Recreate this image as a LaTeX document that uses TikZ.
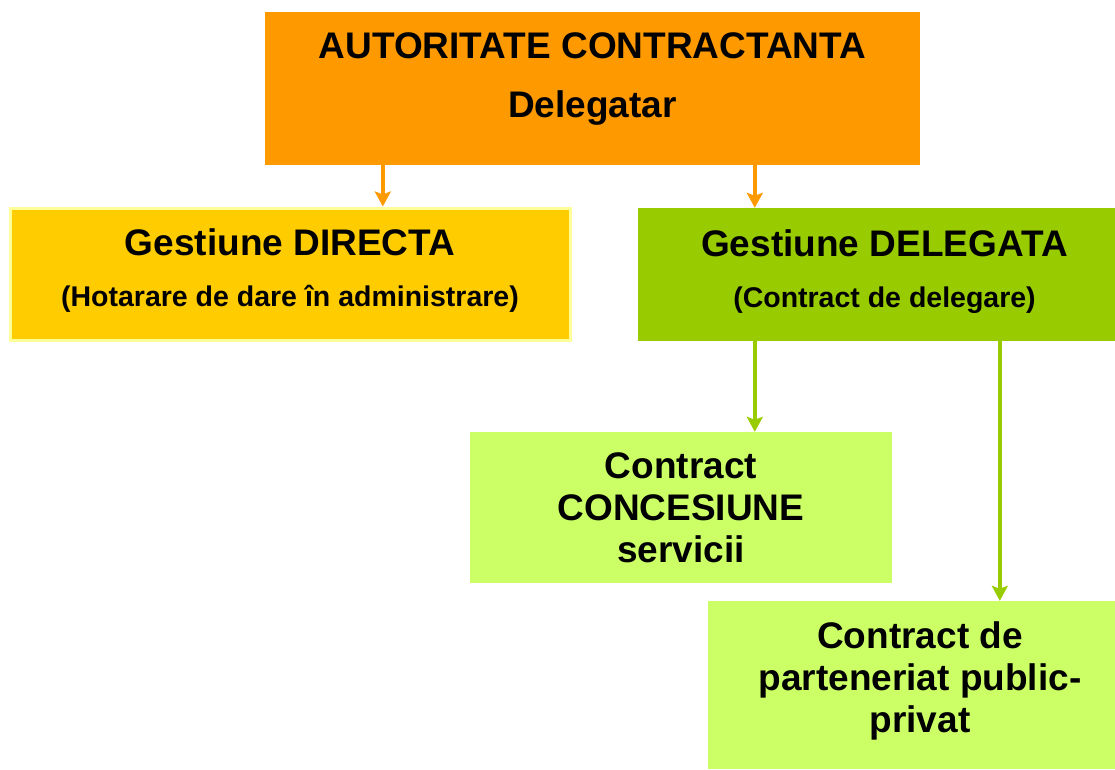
\documentclass[tikz,border=0pt]{standalone}
\usepackage{fontspec}
\setmainfont{Liberation Sans}
\usetikzlibrary{arrows.meta,positioning}
\definecolor{autOrange}{HTML}{FF9900}
\definecolor{directYellow}{HTML}{FFCC00}
\definecolor{directBorder}{HTML}{FFFF99}
\definecolor{delegGreen}{HTML}{99CC00}
\definecolor{contrGreen}{HTML}{CCFF66}
\tikzset{
    box/.style={
           rectangle,
           inner sep=0pt,
           align=center,
           text=black,
           font=\bfseries\fontsize{37}{42}\selectfont
           },
    topbox/.style={
           box, fill=autOrange,
           minimum width=655pt, minimum height=153pt,
           text depth=26pt
           },
    directbox/.style={
           box, fill=directYellow, draw=directBorder, line width=3pt,
           minimum width=560pt, minimum height=132pt,
           text depth=12pt
           },
    delegbox/.style={
           box, fill=delegGreen,
           minimum width=493pt, minimum height=133pt,
           text depth=12pt
           },
    contrbox/.style={
           box, fill=contrGreen
           },
    link/.style={
           line width=4.5pt,
           -{Stealth[length=15pt,width=16pt,inset=3pt]}
           }
}
\begin{document}
\begin{tikzpicture}[x=1pt, y=-1pt]
   \useasboundingbox (0,0) rectangle (1115,769);
   \clip (0,0) rectangle (1115,769);
   % boxes
   \node[topbox] (top) at (592.5,88.5) {AUTORITATE CONTRACTANTA\\[17pt]Delegatar};
   \node[directbox] (directa) at (290,274) {Gestiune DIRECTA\\[9pt]{\fontsize{28.5}{34}\selectfont(Hotarare de dare în administrare)}};
   \node[delegbox] (delegata) at (884.5,274.5) {Gestiune DELEGATA\\[9pt]{\fontsize{28.5}{34}\selectfont(Contract de delegare)}};
   \node[contrbox, minimum width=422pt, minimum height=151pt] (concesiune) at (681,507.5) {Contract\\CONCESIUNE\\servicii};
   \node[contrbox, minimum width=424pt, minimum height=168pt, text depth=16pt] (ppp) at (920,685) {Contract de\\parteneriat public-\\privat};
   % connectors
   \draw[link, autOrange] ([xshift=118pt]top.south west) coordinate (t1) -- (t1 |- directa.north);
   \draw[link, autOrange] ([xshift=490pt]top.south west) coordinate (t2) -- (t2 |- delegata.north);
   \draw[link, delegGreen] ([xshift=117pt]delegata.south west) coordinate (d1) -- (d1 |- concesiune.north);
   \draw[link, delegGreen] ([xshift=362pt]delegata.south west) coordinate (d2) -- (d2 |- ppp.north);
\end{tikzpicture}
\end{document}
